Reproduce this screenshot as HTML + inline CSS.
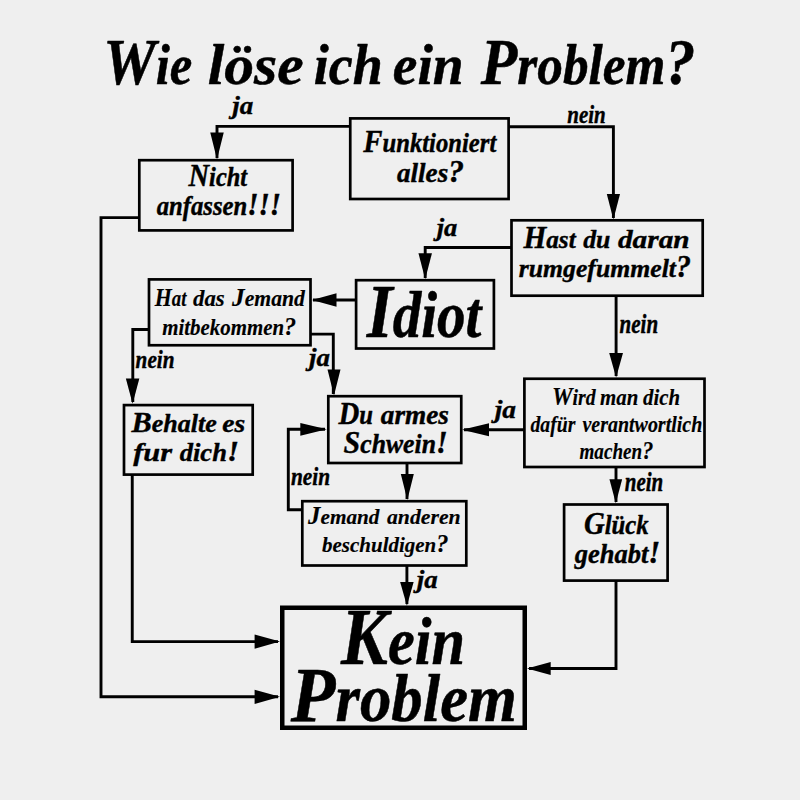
<!DOCTYPE html><html><head><meta charset="utf-8"><style>html,body{margin:0;padding:0;background:#efefef;width:800px;height:800px;overflow:hidden}svg{display:block}text{font-family:"Liberation Serif",serif;font-style:italic;font-weight:bold;fill:#000;white-space:pre;stroke:#000;stroke-linejoin:round}</style></head><body>
<svg width="800" height="800" viewBox="0 0 800 800">
<rect x="0" y="0" width="800" height="800" fill="#efefef"/>
<g fill="none" stroke="#000" stroke-linejoin="miter">
<rect x="139.30" y="160.20" width="153.30" height="70.20" stroke-width="2.70"/>
<rect x="350.25" y="118.40" width="158.35" height="80.60" stroke-width="2.70"/>
<rect x="511.50" y="220.30" width="191.20" height="75.40" stroke-width="2.70"/>
<rect x="356.10" y="280.20" width="137.80" height="68.30" stroke-width="2.70"/>
<rect x="149.00" y="279.40" width="161.50" height="65.85" stroke-width="2.70"/>
<rect x="124.00" y="405.10" width="128.70" height="69.50" stroke-width="2.70"/>
<rect x="328.30" y="396.20" width="132.95" height="66.80" stroke-width="2.70"/>
<rect x="302.30" y="501.20" width="164.00" height="64.30" stroke-width="2.70"/>
<rect x="524.40" y="378.75" width="180.10" height="88.25" stroke-width="2.70"/>
<rect x="564.10" y="504.50" width="103.50" height="76.10" stroke-width="2.70"/>
<rect x="282.25" y="607.75" width="242.50" height="120.00" stroke-width="4.50"/>
<path d="M350 126.4 H217 V158" stroke-width="2.90"/>
<path d="M509 126.75 H613.4 V218" stroke-width="2.90"/>
<path d="M512 247.5 H425.2 V278" stroke-width="2.90"/>
<path d="M616.1 295.8 V376" stroke-width="2.90"/>
<path d="M356 300 H313" stroke-width="2.90"/>
<path d="M149 329.5 H132.8 V402" stroke-width="2.90"/>
<path d="M310.5 334.1 H333.3 V394" stroke-width="2.90"/>
<path d="M524.4 429.75 H464" stroke-width="2.90"/>
<path d="M407 463 V499" stroke-width="2.90"/>
<path d="M302.5 509.7 H288.3 V429.3 H325" stroke-width="2.90"/>
<path d="M406.9 566 V604" stroke-width="2.90"/>
<path d="M616 467 V502" stroke-width="2.90"/>
<path d="M616 580.7 V668.5 H529" stroke-width="2.90"/>
<path d="M132.25 475 V641.6 H278" stroke-width="2.90"/>
<path d="M138 217.6 H101.0 V696.8 H278" stroke-width="2.90"/>
</g><g fill="#000">
<polygon points="217.00,159.50 210.25,132.50 223.75,132.50"/>
<polygon points="613.40,219.40 606.80,193.90 620.00,193.90"/>
<polygon points="425.20,279.20 418.45,253.20 431.95,253.20"/>
<polygon points="616.10,377.50 609.20,353.00 623.00,353.00"/>
<polygon points="312.00,300.00 336.50,293.20 336.50,306.80"/>
<polygon points="132.60,403.80 125.85,378.50 139.35,378.50"/>
<polygon points="334.00,395.50 327.50,369.50 340.50,369.50"/>
<polygon points="462.00,429.75 489.00,423.25 489.00,436.25"/>
<polygon points="407.30,500.00 400.80,474.00 413.80,474.00"/>
<polygon points="326.80,429.30 300.30,422.90 300.30,435.70"/>
<polygon points="406.90,605.75 400.15,582.05 413.65,582.05"/>
<polygon points="615.80,503.30 609.45,479.20 622.15,479.20"/>
<polygon points="527.00,668.50 550.70,661.90 550.70,675.10"/>
<polygon points="280.00,641.60 254.60,634.50 254.60,648.70"/>
<polygon points="280.00,696.80 254.60,689.70 254.60,703.90"/>
</g>
<text transform="translate(103.14 84.00) scale(0.8900 1)" stroke-width="0.53"><tspan font-size="66.41">W</tspan><tspan font-size="56.98">ie</tspan></text>
<text transform="translate(207.70 84.00) scale(1.0455 1)" stroke-width="0.49"><tspan font-size="56.98">löse</tspan></text>
<text transform="translate(313.74 84.00) scale(0.9466 1)" stroke-width="0.51"><tspan font-size="56.98">ich</tspan></text>
<text transform="translate(392.78 84.00) scale(0.9736 1)" stroke-width="0.51"><tspan font-size="56.98">ein</tspan></text>
<text transform="translate(480.80 84.00) scale(0.9000 1)" stroke-width="0.53"><tspan font-size="66.41">P</tspan><tspan font-size="56.98">roblem</tspan><tspan font-size="66.41">?</tspan></text>
<text transform="translate(188.51 186.00) scale(0.9200 1)" stroke-width="0.42"><tspan font-size="30.99">N</tspan><tspan font-size="26.59">icht</tspan></text>
<text transform="translate(156.70 214.80) scale(0.9295 1)" stroke-width="0.41"><tspan font-size="26.59">anfassen</tspan><tspan font-size="30.99">!!!</tspan></text>
<text transform="translate(363.30 152.40) scale(0.9013 1)" stroke-width="0.42"><tspan font-size="31.91">F</tspan><tspan font-size="27.38">unktioniert</tspan></text>
<text transform="translate(397.00 181.70) scale(0.9900 1)" stroke-width="0.40"><tspan font-size="27.38">alles</tspan><tspan font-size="31.91">?</tspan></text>
<text transform="translate(523.42 247.90) scale(0.9614 1)" stroke-width="0.41"><tspan font-size="30.53">H</tspan><tspan font-size="26.20">ast</tspan></text>
<text transform="translate(583.20 247.90) scale(0.9852 1)" stroke-width="0.40"><tspan font-size="26.20">du</tspan></text>
<text transform="translate(617.90 247.90) scale(1.1206 1)" stroke-width="0.38"><tspan font-size="26.20">daran</tspan></text>
<text transform="translate(518.77 276.60) scale(0.9822 1)" stroke-width="0.40"><tspan font-size="26.20">rumgefummelt</tspan><tspan font-size="30.53">?</tspan></text>
<text transform="translate(366.78 336.50) scale(0.8797 1)" stroke-width="0.53"><tspan font-size="75.57">I</tspan><tspan font-size="64.84">diot</tspan></text>
<text transform="translate(154.68 305.75) scale(0.8504 1)" stroke-width="0.16"><tspan font-size="25.80">H</tspan><tspan font-size="22.14">at</tspan></text>
<text transform="translate(193.00 305.75) scale(1.0333 1)" stroke-width="0.15"><tspan font-size="22.14">das</tspan></text>
<text transform="translate(232.00 305.75) scale(0.9804 1)" stroke-width="0.15"><tspan font-size="25.80">J</tspan><tspan font-size="22.14">emand</tspan></text>
<text transform="translate(162.19 334.60) scale(0.9441 1)" stroke-width="0.15"><tspan font-size="22.14">mitbekommen</tspan><tspan font-size="25.80">?</tspan></text>
<text transform="translate(131.59 431.60) scale(1.0137 1)" stroke-width="0.40"><tspan font-size="29.92">B</tspan><tspan font-size="25.68">ehalte</tspan></text>
<text transform="translate(222.34 431.60) scale(1.0721 1)" stroke-width="0.39"><tspan font-size="25.68">es</tspan></text>
<text transform="translate(133.20 461.00) scale(1.1851 1)" stroke-width="0.37"><tspan font-size="25.68">fur</tspan></text>
<text transform="translate(179.70 461.00) scale(1.0347 1)" stroke-width="0.39"><tspan font-size="25.68">dich</tspan><tspan font-size="29.92">!</tspan></text>
<text transform="translate(338.50 423.80) scale(0.9106 1)" stroke-width="0.42"><tspan font-size="31.60">D</tspan><tspan font-size="27.12">u</tspan></text>
<text transform="translate(380.75 423.80) scale(1.0052 1)" stroke-width="0.40"><tspan font-size="27.12">armes</tspan></text>
<text transform="translate(343.59 453.00) scale(0.9348 1)" stroke-width="0.41"><tspan font-size="32.06">S</tspan><tspan font-size="27.51">chwein</tspan><tspan font-size="32.06">!</tspan></text>
<text transform="translate(308.10 523.70) scale(1.0079 1)" stroke-width="0.15"><tspan font-size="24.58">J</tspan><tspan font-size="21.09">emand</tspan></text>
<text transform="translate(387.00 523.70) scale(1.0316 1)" stroke-width="0.15"><tspan font-size="21.09">anderen</tspan></text>
<text transform="translate(322.07 552.30) scale(0.9952 1)" stroke-width="0.15"><tspan font-size="21.09">beschuldigen</tspan><tspan font-size="24.58">?</tspan></text>
<text transform="translate(552.01 404.70) scale(0.8958 1)" stroke-width="0.16"><tspan font-size="25.80">W</tspan><tspan font-size="22.14">ird</tspan></text>
<text transform="translate(600.09 404.70) scale(0.9432 1)" stroke-width="0.15"><tspan font-size="22.14">man</tspan></text>
<text transform="translate(643.10 404.70) scale(0.9417 1)" stroke-width="0.15"><tspan font-size="22.14">dich</tspan></text>
<text transform="translate(530.40 432.10) scale(0.8921 1)" stroke-width="0.16"><tspan font-size="22.14">dafür</tspan></text>
<text transform="translate(582.40 432.10) scale(0.9030 1)" stroke-width="0.16"><tspan font-size="22.14">verantwortlich</tspan></text>
<text transform="translate(579.51 459.30) scale(0.8632 1)" stroke-width="0.16"><tspan font-size="22.14">machen</tspan><tspan font-size="25.80">?</tspan></text>
<text transform="translate(583.90 533.50) scale(0.8986 1)" stroke-width="0.42"><tspan font-size="32.06">G</tspan><tspan font-size="27.51">lück</tspan></text>
<text transform="translate(574.64 563.20) scale(0.9636 1)" stroke-width="0.41"><tspan font-size="27.51">gehabt</tspan><tspan font-size="32.06">!</tspan></text>
<text transform="translate(341.09 663.80) scale(0.8862 1)" stroke-width="0.53"><tspan font-size="79.39">K</tspan><tspan font-size="68.12">ein</tspan></text>
<text transform="translate(290.81 721.00) scale(0.9399 1)" stroke-width="0.52"><tspan font-size="77.86">P</tspan><tspan font-size="66.81">roblem</tspan></text>
<text transform="translate(232.23 114.40) scale(1.0457 1)" stroke-width="0.39"><tspan font-size="25.91">ja</tspan></text>
<text transform="translate(567.23 122.50) scale(0.8036 1)" stroke-width="0.44"><tspan font-size="26.17">nein</tspan></text>
<text transform="translate(436.72 235.50) scale(1.0141 1)" stroke-width="0.40"><tspan font-size="26.17">ja</tspan></text>
<text transform="translate(619.44 332.80) scale(0.7944 1)" stroke-width="0.45"><tspan font-size="26.55">nein</tspan></text>
<text transform="translate(135.61 367.80) scale(0.8700 1)" stroke-width="0.43"><tspan font-size="24.39">nein</tspan></text>
<text transform="translate(309.08 365.50) scale(1.0746 1)" stroke-width="0.39"><tspan font-size="25.03">ja</tspan></text>
<text transform="translate(494.66 417.50) scale(1.0970 1)" stroke-width="0.38"><tspan font-size="25.03">ja</tspan></text>
<text transform="translate(290.91 484.60) scale(0.8769 1)" stroke-width="0.43"><tspan font-size="24.39">nein</tspan></text>
<text transform="translate(624.74 490.60) scale(0.7923 1)" stroke-width="0.45"><tspan font-size="26.55">nein</tspan></text>
<text transform="translate(416.68 587.75) scale(1.0310 1)" stroke-width="0.39"><tspan font-size="26.17">ja</tspan></text>
</svg></body></html>
